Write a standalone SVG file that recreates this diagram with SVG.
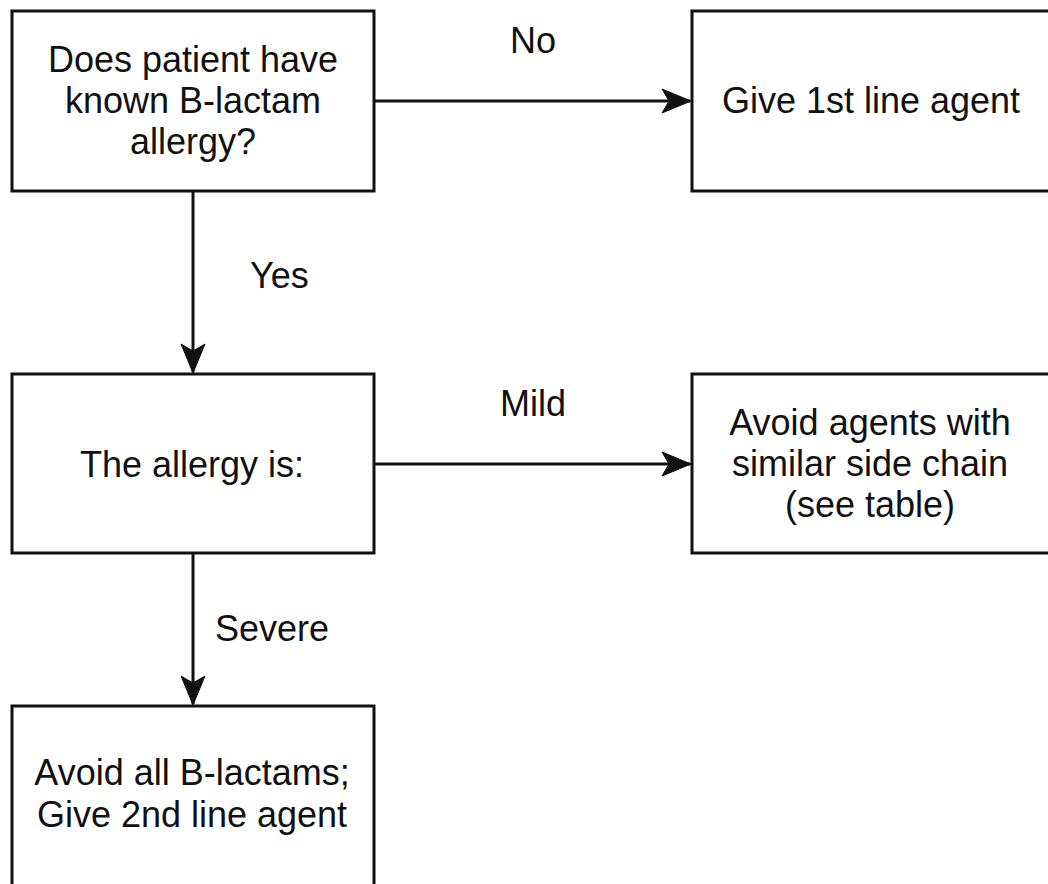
<svg xmlns="http://www.w3.org/2000/svg" width="1048" height="884" viewBox="0 0 1048 884">
  <style>
    .box { fill: #ffffff; stroke: #111111; stroke-width: 3; }
    .t { font-family: "Liberation Sans", Arial, sans-serif; font-size: 36px; fill: #111111; text-anchor: middle; }
    .lbl { font-family: "Liberation Sans", Arial, sans-serif; font-size: 36px; fill: #111111; }
    .edge { stroke: #111111; stroke-width: 3; fill: none; marker-end: url(#arrow); }
  </style>
  <defs>
    <marker id="arrow" markerUnits="userSpaceOnUse" markerWidth="32" markerHeight="28" viewBox="-30 -14 32 28" refX="0" refY="0" orient="auto">
      <path d="M1,0 L-28,-12 L-21,0 L-28,12 Z" fill="#111111" stroke="#111111" stroke-width="1" stroke-linejoin="miter"/>
    </marker>
  </defs>
  <rect width="1048" height="884" fill="#ffffff"/>

  <g id="connectors">
    <line class="edge" x1="374" y1="101" x2="690" y2="101"/>
    <line class="edge" x1="193" y1="191" x2="193" y2="372"/>
    <line class="edge" x1="374" y1="464" x2="690" y2="464"/>
    <line class="edge" x1="193" y1="553" x2="193" y2="704"/>
    <text class="lbl" x="533" y="53" text-anchor="middle">No</text>
    <text class="lbl" x="250" y="288">Yes</text>
    <text class="lbl" x="533" y="416" text-anchor="middle">Mild</text>
    <text class="lbl" x="215" y="641">Severe</text>
  </g>

  <g id="q-allergy">
    <rect class="box" x="12" y="11" width="362" height="180"/>
    <text class="t" x="193" y="72">Does patient have</text>
    <text class="t" x="193" y="113">known B-lactam</text>
    <text class="t" x="193" y="154">allergy?</text>
  </g>

  <g id="first-line">
    <rect class="box" x="692" y="11" width="362" height="180"/>
    <text class="t" x="871" y="113">Give 1st line agent</text>
  </g>

  <g id="allergy-type">
    <rect class="box" x="12" y="374" width="362" height="179"/>
    <text class="t" x="192" y="477">The allergy is:</text>
  </g>

  <g id="mild-action">
    <rect class="box" x="692" y="374" width="362" height="179"/>
    <text class="t" x="870" y="435">Avoid agents with</text>
    <text class="t" x="870" y="476">similar side chain</text>
    <text class="t" x="870" y="517">(see table)</text>
  </g>

  <g id="severe-action">
    <rect class="box" x="12" y="706" width="362" height="200"/>
    <text class="t" x="192" y="785">Avoid all B-lactams;</text>
    <text class="t" x="192" y="827">Give 2nd line agent</text>
  </g>
</svg>
